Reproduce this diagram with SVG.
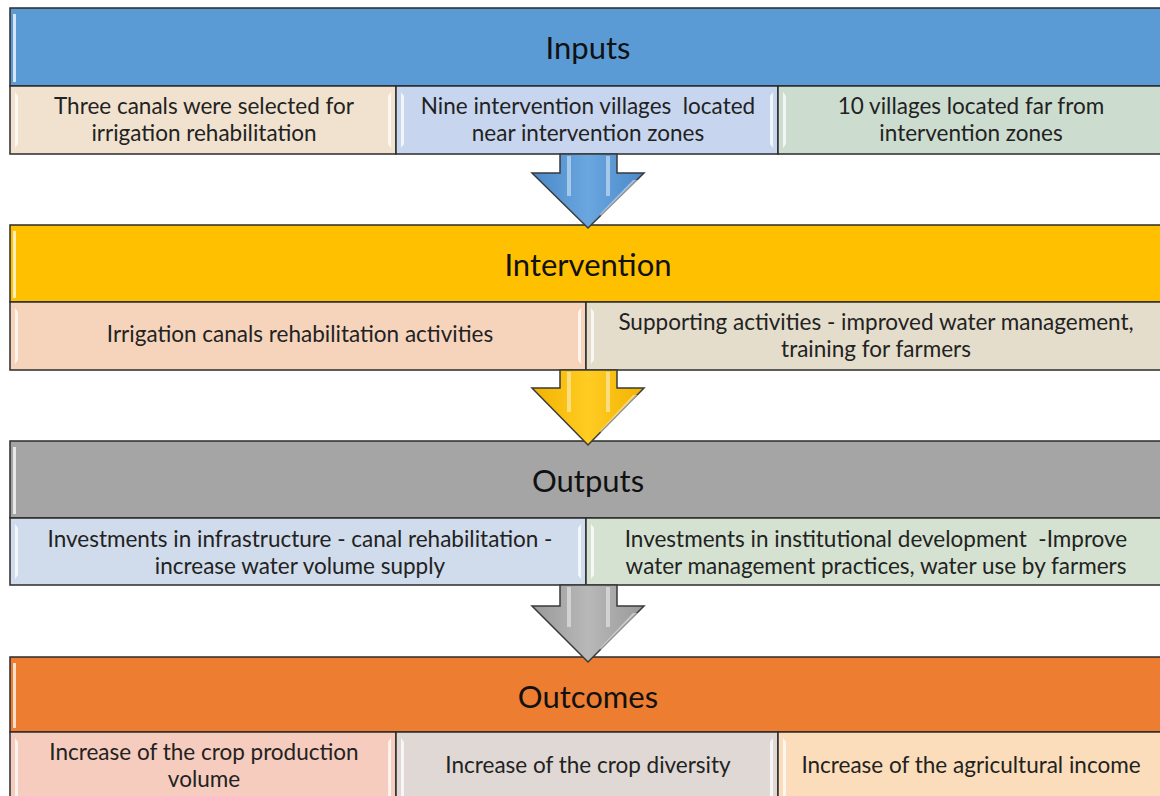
<svg xmlns="http://www.w3.org/2000/svg" width="1160" height="796" viewBox="0 0 1160 796">
<style>
.hdr{stroke:#2b2b2b;stroke-width:1.5}
.cell{stroke:#2b2b2b;stroke-width:1.5}
.ht{font-family:Lato,"Open Sans",sans-serif;font-size:31px;fill:#111;text-anchor:middle;dominant-baseline:central}
.ct{font-family:Lato,"Open Sans",sans-serif;font-size:22.5px;fill:#222;text-anchor:middle;dominant-baseline:central}
.hl{fill:#fff;opacity:0.75}
.arr{stroke:#3a3a3a;stroke-width:1.5;stroke-linejoin:miter}
.stripe{fill:#fff;opacity:0.45}
</style>
<defs>
<linearGradient id="gBlue" x1="0" y1="0" x2="1" y2="0">
<stop offset="0" stop-color="#4a88c8"/><stop offset="0.5" stop-color="#6aa7e0"/><stop offset="1" stop-color="#4a88c8"/>
</linearGradient>
<linearGradient id="gYel" x1="0" y1="0" x2="1" y2="0">
<stop offset="0" stop-color="#f2b200"/><stop offset="0.5" stop-color="#ffcc22"/><stop offset="1" stop-color="#f2b200"/>
</linearGradient>
<linearGradient id="gGry" x1="0" y1="0" x2="1" y2="0">
<stop offset="0" stop-color="#999"/><stop offset="0.5" stop-color="#b8b8b8"/><stop offset="1" stop-color="#999"/>
</linearGradient>
</defs>
<rect x="0" y="0" width="1160" height="796" fill="#fff"/>

<g id="inputs">
<rect class="hdr" x="10" y="8" width="1152" height="78" fill="#5b9bd5"/>
<rect class="hl" x="13" y="14" width="3" height="68" opacity="0.5"/>
<text class="ht" x="588" y="47">Inputs</text>
</g>
<g id="input-1">
<rect class="cell" x="10" y="86" width="386" height="68" fill="#f0e2cf"/>
<polygon class="hl" points="15,92 18,96 18,144 15,148"/><polygon class="hl" points="391,92 388,96 388,144 391,148"/>
<text class="ct" x="204" y="105">Three canals were selected for</text>
<text class="ct" x="204" y="132">irrigation rehabilitation</text>
</g>
<g id="input-2">
<rect class="cell" x="396" y="86" width="382" height="68" fill="#c7d6ee"/>
<polygon class="hl" points="401,92 404,96 404,144 401,148"/><polygon class="hl" points="773,92 770,96 770,144 773,148"/>
<text class="ct" x="588" y="105" xml:space="preserve">Nine intervention villages  located</text>
<text class="ct" x="588" y="132">near intervention zones</text>
</g>
<g id="input-3">
<rect class="cell" x="778" y="86" width="384" height="68" fill="#ccdccf"/>
<polygon class="hl" points="783,92 786,96 786,144 783,148"/>
<text class="ct" x="971" y="105">10 villages located far from</text>
<text class="ct" x="971" y="132">intervention zones</text>
</g>

<g id="intervention">
<rect class="hdr" x="10" y="225" width="1152" height="77" fill="#ffc000"/>
<rect class="hl" x="13" y="231" width="3" height="67" opacity="0.5"/>
<text class="ht" x="588" y="264">Intervention</text>
</g>
<g id="intervention-1">
<rect class="cell" x="10" y="302" width="576" height="68" fill="#f6d4bc"/>
<polygon class="hl" points="15,308 18,312 18,360 15,364"/><polygon class="hl" points="581,308 578,312 578,360 581,364"/>
<text class="ct" x="300" y="333">Irrigation canals rehabilitation activities</text>
</g>
<g id="intervention-2">
<rect class="cell" x="586" y="302" width="576" height="68" fill="#e4ddcb"/>
<polygon class="hl" points="591,308 594,312 594,360 591,364"/>
<text class="ct" x="876" y="321">Supporting activities - improved water management,</text>
<text class="ct" x="876" y="348">training for farmers</text>
</g>

<g id="outputs">
<rect class="hdr" x="10" y="441" width="1152" height="77" fill="#a5a5a5"/>
<rect class="hl" x="13" y="447" width="3" height="67" opacity="0.5"/>
<text class="ht" x="588" y="480">Outputs</text>
</g>
<g id="output-1">
<rect class="cell" x="10" y="518" width="576" height="67" fill="#d0dbeb"/>
<polygon class="hl" points="15,524 18,528 18,575 15,579"/><polygon class="hl" points="581,524 578,528 578,575 581,579"/>
<text class="ct" x="300" y="538">Investments in infrastructure - canal rehabilitation -</text>
<text class="ct" x="300" y="565">increase water volume supply</text>
</g>
<g id="output-2">
<rect class="cell" x="586" y="518" width="576" height="67" fill="#d5e2d1"/>
<polygon class="hl" points="591,524 594,528 594,575 591,579"/>
<text class="ct" x="876" y="538" xml:space="preserve">Investments in institutional development  -Improve</text>
<text class="ct" x="876" y="565">water management practices, water use by farmers</text>
</g>

<g id="outcomes">
<rect class="hdr" x="10" y="657" width="1152" height="75" fill="#ed7d31"/>
<rect class="hl" x="13" y="663" width="3" height="65" opacity="0.5"/>
<text class="ht" x="588" y="696">Outcomes</text>
</g>
<g id="outcome-1">
<rect class="cell" x="10" y="732" width="386" height="70" fill="#f5ccbd"/>
<polygon class="hl" points="15,738 18,742 18,796 15,796"/><polygon class="hl" points="391,738 388,742 388,796 391,796"/>
<text class="ct" x="204" y="751">Increase of the crop production</text>
<text class="ct" x="204" y="778">volume</text>
</g>
<g id="outcome-2">
<rect class="cell" x="396" y="732" width="382" height="70" fill="#e0d8d5"/>
<polygon class="hl" points="401,738 404,742 404,796 401,796"/><polygon class="hl" points="773,738 770,742 770,796 773,796"/>
<text class="ct" x="588" y="764">Increase of the crop diversity</text>
</g>
<g id="outcome-3">
<rect class="cell" x="778" y="732" width="384" height="70" fill="#fbddbb"/>
<polygon class="hl" points="783,738 786,742 786,796 783,796"/>
<text class="ct" x="971" y="764">Increase of the agricultural income</text>
</g>

<g id="connectors">
<g id="arrow-1">
<polygon class="arr" fill="url(#gBlue)" points="560,154 617,154 617,173 644,173 588,228 532,173 560,173"/>
<rect class="stripe" x="567" y="156" width="4" height="40"/><rect class="stripe" x="606" y="156" width="4" height="40"/>
<polygon class="stripe" points="600,214 633,180 638,180 602,218"/>
</g>
<g id="arrow-2">
<polygon class="arr" fill="url(#gYel)" points="560,370 617,370 617,388 644,388 588,445 532,388 560,388"/>
<rect class="stripe" x="567" y="372" width="4" height="40"/><rect class="stripe" x="606" y="372" width="4" height="40"/>
<polygon class="stripe" points="600,431 633,395 638,395 602,435"/>
</g>
<g id="arrow-3">
<polygon class="arr" fill="url(#gGry)" points="560,585 617,585 617,606 644,606 588,662 532,606 560,606"/>
<rect class="stripe" x="567" y="587" width="4" height="40"/><rect class="stripe" x="606" y="587" width="4" height="40"/>
<polygon class="stripe" points="600,648 633,613 638,613 602,652"/>
</g>
</g>
</svg>
